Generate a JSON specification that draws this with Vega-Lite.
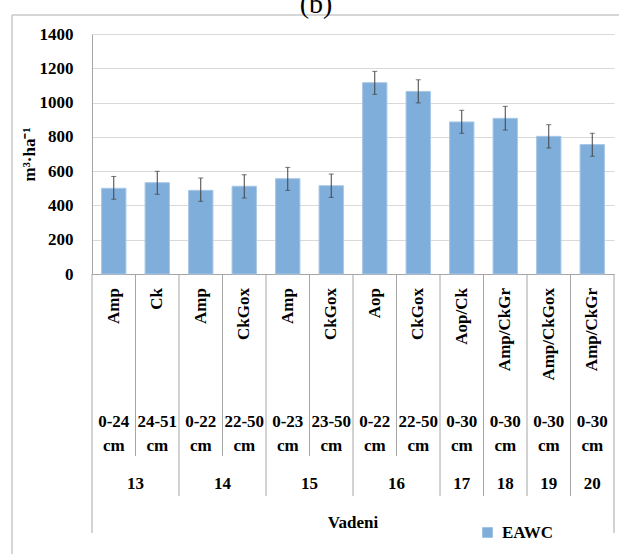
{
  "$schema": "https://vega.github.io/schema/vega-lite/v6.json",
  "padding": {"left": 11, "top": -9, "right": 0, "bottom": 0},
  "background": "white",
  "title": {"text": "(b)", "fontSize": 28, "font": "Liberation Serif", "fontWeight": "normal", "anchor": "middle", "offset": -5, "color": "black"},
  "spacing": 0,
  "columns": 2,
  "bounds": "flush",
  "datasets": {
    "bars": [
      {"id": "13 Amp", "horizon": "Amp", "depth": "0-24 cm", "value": 500, "lo": 436, "hi": 569},
      {"id": "13 Ck", "horizon": "Ck", "depth": "24-51 cm", "value": 533, "lo": 465, "hi": 599},
      {"id": "14 Amp", "horizon": "Amp", "depth": "0-22 cm", "value": 488, "lo": 424, "hi": 560},
      {"id": "14 CkGox", "horizon": "CkGox", "depth": "22-50 cm", "value": 512, "lo": 443, "hi": 579},
      {"id": "15 Amp", "horizon": "Amp", "depth": "0-23 cm", "value": 556, "lo": 488, "hi": 622},
      {"id": "15 CkGox", "horizon": "CkGox", "depth": "23-50 cm", "value": 515, "lo": 447, "hi": 583},
      {"id": "16 Aop", "horizon": "Aop", "depth": "0-22 cm", "value": 1116, "lo": 1048, "hi": 1182},
      {"id": "16 CkGox", "horizon": "CkGox", "depth": "22-50 cm", "value": 1065, "lo": 998, "hi": 1133},
      {"id": "17 Aop/Ck", "horizon": "Aop/Ck", "depth": "0-30 cm", "value": 887, "lo": 821, "hi": 955},
      {"id": "18 Amp/CkGr", "horizon": "Amp/CkGr", "depth": "0-30 cm", "value": 908, "lo": 840, "hi": 978},
      {"id": "19 Amp/CkGox", "horizon": "Amp/CkGox", "depth": "0-30 cm", "value": 803, "lo": 735, "hi": 871},
      {"id": "20 Amp/CkGr", "horizon": "Amp/CkGr", "depth": "0-30 cm", "value": 755, "lo": 687, "hi": 821}
    ],
    "bounds": [
      {"id": "13 Amp", "kind": "outer"},
      {"id": "13 Ck", "kind": "inner"},
      {"id": "14 Amp", "kind": "group"},
      {"id": "14 CkGox", "kind": "inner"},
      {"id": "15 Amp", "kind": "group"},
      {"id": "15 CkGox", "kind": "inner"},
      {"id": "16 Aop", "kind": "group"},
      {"id": "16 CkGox", "kind": "inner"},
      {"id": "17 Aop/Ck", "kind": "group"},
      {"id": "18 Amp/CkGr", "kind": "group"},
      {"id": "19 Amp/CkGox", "kind": "group"},
      {"id": "20 Amp/CkGr", "kind": "group"}
    ],
    "profiles": [
      {"profile": "13", "id": "13 Ck", "span": 2},
      {"profile": "14", "id": "14 CkGox", "span": 2},
      {"profile": "15", "id": "15 CkGox", "span": 2},
      {"profile": "16", "id": "16 CkGox", "span": 2},
      {"profile": "17", "id": "17 Aop/Ck", "span": 1},
      {"profile": "18", "id": "18 Amp/CkGr", "span": 1},
      {"profile": "19", "id": "19 Amp/CkGox", "span": 1},
      {"profile": "20", "id": "20 Amp/CkGr", "span": 1}
    ],
    "site": [{"site": "Vadeni"}]
  },
  "concat": [
    {"width": 80, "height": 19, "data": {"name": "site"},
     "layer": [
       {"mark": {"type": "rule", "color": "#c8c8c8", "strokeWidth": 1.5},
        "encoding": {"x": {"datum": 0, "type": "quantitative", "scale": {"domain": [0, 1]}, "axis": null}}},
       {"mark": {"type": "rule", "color": "#c8c8c8", "strokeWidth": 1.5},
        "encoding": {"y": {"datum": 1, "type": "quantitative", "scale": {"domain": [0, 1]}, "axis": null}}}
     ]},
    {"width": 528, "height": 19, "data": {"name": "site"},
     "mark": {"type": "rule", "color": "#c8c8c8", "strokeWidth": 1.5},
     "encoding": {"y": {"datum": 1, "type": "quantitative", "scale": {"domain": [0, 1]}, "axis": null}}},
    {"width": 80, "height": 240, "data": {"name": "site"},
     "mark": {"type": "rule", "color": "#c8c8c8", "strokeWidth": 1.5},
     "encoding": {"x": {"datum": 0, "type": "quantitative", "scale": {"domain": [0, 1]}, "axis": null}}},
    {
      "width": 522,
      "height": 240,
      "data": {"name": "bars"},
      "encoding": {
        "x": {"field": "id", "type": "nominal", "sort": null,
              "scale": {"type": "band", "paddingInner": 0, "paddingOuter": 0},
              "axis": {"labels": false, "ticks": false, "title": null, "grid": false, "domainColor": "#a6a6a6"}}
      },
      "layer": [
        {
          "mark": {"type": "bar", "width": {"band": 0.56}, "stroke": "#a8c7e6", "strokeWidth": 1},
          "encoding": {
            "y": {"field": "value", "type": "quantitative",
                  "scale": {"domain": [0, 1400], "nice": false},
                  "axis": {"values": [0, 200, 400, 600, 800, 1000, 1200, 1400], "format": "d", "labelOverlap": false,
                           "title": "m³·ha⁻¹", "ticks": false, "labelPadding": 19, "titlePadding": 1,
                           "gridColor": "#d9d9d9", "domainColor": "#a6a6a6"}},
            "color": {"datum": "EAWC", "type": "nominal",
                      "scale": {"range": ["#80aedb"]},
                      "legend": {"title": null, "orient": "none", "legendX": 467, "legendY": 509,
                                 "symbolType": "square", "symbolSize": 110, "symbolStrokeWidth": 0,
                                 "labelFont": "Liberation Serif", "labelFontSize": 17, "labelFontWeight": "bold",
                                 "labelColor": "black", "labelOffset": 6}}
          }
        },
        {
          "mark": {"type": "rule", "color": "#404040", "strokeWidth": 1},
          "encoding": {
            "y": {"field": "lo", "type": "quantitative",
                  "axis": {"values": [0, 200, 400, 600, 800, 1000, 1200, 1400], "format": "d", "labelOverlap": false,
                           "title": "m³·ha⁻¹", "ticks": false, "labelPadding": 19, "titlePadding": 1,
                           "gridColor": "#d9d9d9", "domainColor": "#a6a6a6"}},
            "y2": {"field": "hi"}
          }
        },
        {
          "mark": {"type": "tick", "color": "#404040", "size": 5, "thickness": 1, "orient": "horizontal"},
          "encoding": {
            "y": {"field": "lo", "type": "quantitative",
                  "axis": {"values": [0, 200, 400, 600, 800, 1000, 1200, 1400], "format": "d", "labelOverlap": false,
                           "title": "m³·ha⁻¹", "ticks": false, "labelPadding": 19, "titlePadding": 1,
                           "gridColor": "#d9d9d9", "domainColor": "#a6a6a6"}}
          }
        },
        {
          "mark": {"type": "tick", "color": "#404040", "size": 5, "thickness": 1, "orient": "horizontal"},
          "encoding": {
            "y": {"field": "hi", "type": "quantitative",
                  "axis": {"values": [0, 200, 400, 600, 800, 1000, 1200, 1400], "format": "d", "labelOverlap": false,
                           "title": "m³·ha⁻¹", "ticks": false, "labelPadding": 19, "titlePadding": 1,
                           "gridColor": "#d9d9d9", "domainColor": "#a6a6a6"}}
          }
        }
      ]
    },
    {"width": 80, "height": 28, "data": {"name": "site"},
     "mark": {"type": "rule", "color": "#c8c8c8", "strokeWidth": 1.5},
     "encoding": {"x": {"datum": 0, "type": "quantitative", "scale": {"domain": [0, 1]}, "axis": null}}},
    {
      "width": 522,
      "height": 28,
      "resolve": {"scale": {"x": "independent"}},
      "layer": [
        {
          "layer": [
            {
              "data": {"name": "bounds"},
              "mark": {"type": "rule", "color": "#a6a6a6", "strokeWidth": 1},
              "encoding": {"x": {"field": "id", "type": "nominal", "bandPosition": 0,
                                 "scale": {"type": "band", "paddingInner": 0, "paddingOuter": 0, "domain": ["13 Amp", "13 Ck", "14 Amp", "14 CkGox", "15 Amp", "15 CkGox", "16 Aop", "16 CkGox", "17 Aop/Ck", "18 Amp/CkGr", "19 Amp/CkGox", "20 Amp/CkGr"]},
                                 "axis": null}}
            },
            {
              "data": {"name": "bars"},
              "mark": {"type": "text", "angle": 270, "align": "right", "baseline": "middle"},
              "encoding": {"x": {"field": "id", "type": "nominal", "axis": null}, "text": {"field": "horizon"}}
            }
          ]
        },
        {
          "data": {"name": "site"},
          "mark": {"type": "rule", "color": "#a6a6a6", "strokeWidth": 1},
          "encoding": {"x": {"datum": 1, "type": "quantitative", "scale": {"domain": [0, 1]}, "axis": null}}
        }
      ]
    },
    {"width": 80, "height": 110, "data": {"name": "site"},
     "mark": {"type": "rule", "color": "#c8c8c8", "strokeWidth": 1.5},
     "encoding": {"x": {"datum": 0, "type": "quantitative", "scale": {"domain": [0, 1]}, "axis": null}}},
    {
      "width": 522,
      "height": 110,
      "resolve": {"scale": {"x": "independent"}},
      "layer": [
        {
          "data": {"name": "bounds"},
          "mark": {"type": "rule", "color": "#a6a6a6", "strokeWidth": 1},
          "encoding": {"x": {"field": "id", "type": "nominal", "bandPosition": 0,
                             "scale": {"type": "band", "paddingInner": 0, "paddingOuter": 0, "domain": ["13 Amp", "13 Ck", "14 Amp", "14 CkGox", "15 Amp", "15 CkGox", "16 Aop", "16 CkGox", "17 Aop/Ck", "18 Amp/CkGr", "19 Amp/CkGox", "20 Amp/CkGr"]},
                             "axis": null}}
        },
        {
          "data": {"name": "site"},
          "mark": {"type": "rule", "color": "#a6a6a6", "strokeWidth": 1},
          "encoding": {"x": {"datum": 1, "type": "quantitative", "scale": {"domain": [0, 1]}, "axis": null}}
        }
      ]
    },
    {"width": 80, "height": 44, "data": {"name": "site"},
     "mark": {"type": "rule", "color": "#c8c8c8", "strokeWidth": 1.5},
     "encoding": {"x": {"datum": 0, "type": "quantitative", "scale": {"domain": [0, 1]}, "axis": null}}},
    {
      "width": 522,
      "height": 44,
      "resolve": {"scale": {"x": "independent"}},
      "layer": [
        {
          "layer": [
            {
              "data": {"name": "bounds"},
              "mark": {"type": "rule", "color": "#a6a6a6", "strokeWidth": 1},
              "encoding": {"x": {"field": "id", "type": "nominal", "bandPosition": 0,
                                 "scale": {"type": "band", "paddingInner": 0, "paddingOuter": 0, "domain": ["13 Amp", "13 Ck", "14 Amp", "14 CkGox", "15 Amp", "15 CkGox", "16 Aop", "16 CkGox", "17 Aop/Ck", "18 Amp/CkGr", "19 Amp/CkGox", "20 Amp/CkGr"]},
                                 "axis": null}}
            },
            {
              "data": {"name": "bars"},
              "mark": {"type": "text", "baseline": "middle", "lineBreak": " ", "lineHeight": 24, "dy": -12},
              "encoding": {"x": {"field": "id", "type": "nominal", "axis": null}, "text": {"field": "depth"}}
            }
          ]
        },
        {
          "data": {"name": "site"},
          "mark": {"type": "rule", "color": "#a6a6a6", "strokeWidth": 1},
          "encoding": {"x": {"datum": 1, "type": "quantitative", "scale": {"domain": [0, 1]}, "axis": null}}
        }
      ]
    },
    {"width": 80, "height": 40, "data": {"name": "site"},
     "mark": {"type": "rule", "color": "#c8c8c8", "strokeWidth": 1.5},
     "encoding": {"x": {"datum": 0, "type": "quantitative", "scale": {"domain": [0, 1]}, "axis": null}}},
    {
      "width": 522,
      "height": 40,
      "resolve": {"scale": {"x": "independent"}},
      "layer": [
        {
          "layer": [
            {
              "data": {"name": "bounds"},
              "transform": [{"filter": "datum.kind !== 'inner'"}],
              "mark": {"type": "rule", "color": "#a6a6a6", "strokeWidth": 1},
              "encoding": {"x": {"field": "id", "type": "nominal", "bandPosition": 0,
                                 "scale": {"type": "band", "paddingInner": 0, "paddingOuter": 0, "domain": ["13 Amp", "13 Ck", "14 Amp", "14 CkGox", "15 Amp", "15 CkGox", "16 Aop", "16 CkGox", "17 Aop/Ck", "18 Amp/CkGr", "19 Amp/CkGox", "20 Amp/CkGr"]},
                                 "axis": null}}
            },
            {
              "data": {"name": "profiles"},
              "transform": [{"filter": "datum.span === 2"}],
              "mark": {"type": "text", "baseline": "top"},
              "encoding": {"x": {"field": "id", "type": "nominal", "bandPosition": 0, "axis": null}, "text": {"field": "profile"}}
            },
            {
              "data": {"name": "profiles"},
              "transform": [{"filter": "datum.span === 1"}],
              "mark": {"type": "text", "baseline": "top"},
              "encoding": {"x": {"field": "id", "type": "nominal", "axis": null}, "text": {"field": "profile"}}
            }
          ]
        },
        {
          "data": {"name": "site"},
          "mark": {"type": "rule", "color": "#a6a6a6", "strokeWidth": 1},
          "encoding": {"x": {"datum": 1, "type": "quantitative", "scale": {"domain": [0, 1]}, "axis": null}}
        }
      ]
    },
    {"width": 80, "height": 37, "data": {"name": "site"},
     "mark": {"type": "rule", "color": "#c8c8c8", "strokeWidth": 1.5},
     "encoding": {"x": {"datum": 0, "type": "quantitative", "scale": {"domain": [0, 1]}, "axis": null}}},
    {
      "width": 522,
      "height": 37,
      "data": {"name": "site"},
      "layer": [
        {
          "mark": {"type": "rule", "color": "#a6a6a6", "strokeWidth": 1},
          "encoding": {"x": {"datum": 0, "type": "quantitative", "scale": {"domain": [0, 1]}, "axis": null}}
        },
        {
          "mark": {"type": "rule", "color": "#a6a6a6", "strokeWidth": 1},
          "encoding": {"x": {"datum": 1, "type": "quantitative", "scale": {"domain": [0, 1]}, "axis": null}}
        },
        {
          "mark": {"type": "text", "baseline": "top"},
          "encoding": {"text": {"field": "site"}}
        }
      ]
    },
    {"width": 80, "height": 30, "data": {"name": "site"},
     "mark": {"type": "rule", "color": "#c8c8c8", "strokeWidth": 1.5},
     "encoding": {"x": {"datum": 0, "type": "quantitative", "scale": {"domain": [0, 1]}, "axis": null}}}
  ],
  "config": {
    "view": {"stroke": null},
    "axis": {"labelFont": "Liberation Serif", "labelFontSize": 17, "labelFontWeight": "bold", "labelColor": "black",
             "titleFont": "Liberation Serif", "titleFontSize": 17, "titleFontWeight": "bold", "titleColor": "black"},
    "text": {"font": "Liberation Serif", "fontSize": 17, "fontWeight": "bold", "color": "black"}
  }
}
